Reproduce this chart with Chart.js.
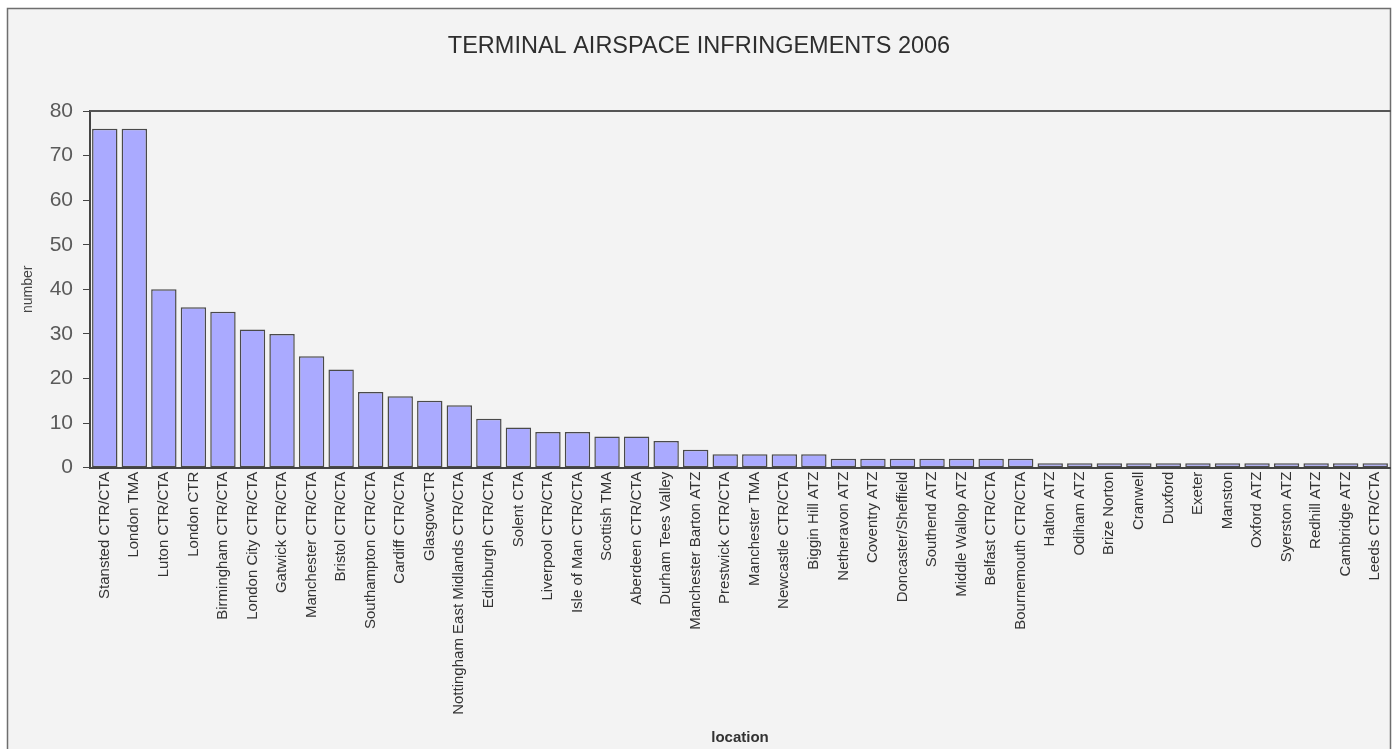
<!DOCTYPE html>
<html>
<head>
<meta charset="utf-8">
<script src="https://cdn.jsdelivr.net/npm/chart.js@4"></script>
<style>
  html, body { margin: 0; padding: 0; background: #ffffff; }
  #wrap { width: 1399px; height: 749px; }
</style>
</head>
<body>
<div id="wrap"><canvas id="c" width="1399" height="749"></canvas></div>
<script>
const chartTitle = 'TERMINAL AIRSPACE INFRINGEMENTS 2006';
const xAxisTitle = 'location';
const yAxisTitle = 'number';

const locations = [
  'Stansted CTR/CTA', 'London TMA', 'Luton CTR/CTA', 'London CTR', 'Birmingham CTR/CTA',
  'London City CTR/CTA', 'Gatwick CTR/CTA', 'Manchester CTR/CTA', 'Bristol CTR/CTA',
  'Southampton CTR/CTA', 'Cardiff CTR/CTA', 'GlasgowCTR', 'Nottingham East Midlands CTR/CTA',
  'Edinburgh CTR/CTA', 'Solent CTA', 'Liverpool CTR/CTA', 'Isle of Man CTR/CTA', 'Scottish TMA',
  'Aberdeen CTR/CTA', 'Durham Tees Valley', 'Manchester Barton ATZ', 'Prestwick CTR/CTA',
  'Manchester TMA', 'Newcastle CTR/CTA', 'Biggin Hill ATZ', 'Netheravon ATZ', 'Coventry ATZ',
  'Doncaster/Sheffield', 'Southend ATZ', 'Middle Wallop ATZ', 'Belfast CTR/CTA',
  'Bournemouth CTR/CTA', 'Halton ATZ', 'Odiham ATZ', 'Brize Norton', 'Cranwell', 'Duxford',
  'Exeter', 'Manston', 'Oxford ATZ', 'Syerston ATZ', 'Redhill ATZ', 'Cambridge ATZ', 'Leeds CTR/CTA'
];

const infringements = [
  76, 76, 40, 36, 35,
  31, 30, 25, 22,
  17, 16, 15, 14,
  11, 9, 8, 8, 7,
  7, 6, 4, 3,
  3, 3, 3, 2, 2,
  2, 2, 2, 2,
  2, 1, 1, 1, 1, 1,
  1, 1, 1, 1, 1, 1, 1
];

const yMin = 0;
const yMax = 80;
const yStep = 10;

const FONT = "'Liberation Sans', Arial, Helvetica, sans-serif";

const framePlugin = {
  id: 'frame',
  beforeDraw(chart) {
    const ctx = chart.ctx;
    ctx.save();
    ctx.fillStyle = '#ffffff';
    ctx.fillRect(0, 0, chart.width, chart.height);
    ctx.fillStyle = '#f3f3f3';
    ctx.fillRect(7, 8, 1383, chart.height);
    ctx.strokeStyle = '#6e6e6e';
    ctx.lineWidth = 1.5;
    ctx.strokeRect(7.5, 8.5, 1383, chart.height + 10);
    ctx.restore();
  },
  afterDraw(chart) {
    const a = chart.chartArea;
    const ctx = chart.ctx;
    ctx.save();
    ctx.strokeStyle = '#555555';
    ctx.lineWidth = 2;
    ctx.beginPath();
    ctx.moveTo(a.left, a.top);
    ctx.lineTo(1391, a.top);
    ctx.stroke();
    ctx.restore();
  }
};

new Chart(document.getElementById('c'), {
  type: 'bar',
  data: {
    labels: locations,
    datasets: [{
      label: yAxisTitle,
      data: infringements,
      backgroundColor: '#aaaaff',
      borderColor: '#4a4a4a',
      borderWidth: 1.5,
      borderSkipped: false,
      categoryPercentage: 1.0,
      barPercentage: 0.86
    }]
  },
  options: {
    responsive: false,
    animation: false,
    events: [],
    layout: { padding: { left: 8, right: 9, top: 0, bottom: 0 } },
    plugins: {
      legend: { display: false },
      tooltip: { enabled: false },
      title: {
        display: true,
        text: chartTitle,
        color: '#2e2e2e',
        font: { family: FONT, size: 23.5, weight: 'normal' },
        padding: { top: 32, bottom: 50.8 }
      }
    },
    scales: {
      x: {
        grid: { display: true, drawOnChartArea: false, drawTicks: false, color: '#444' },
        border: { display: true, color: '#444', width: 2 },
        ticks: {
          autoSkip: false,
          minRotation: 90,
          maxRotation: 90,
          padding: 4,
          color: '#333333',
          font: { family: FONT, size: 15 }
        },
        title: {
          display: true,
          text: xAxisTitle,
          color: '#333333',
          font: { family: FONT, size: 15, weight: 'bold' },
          padding: { top: 0, bottom: 2 }
        },
        afterFit(scale) { scale.height = 749 - 467.7; }
      },
      y: {
        min: yMin,
        max: yMax,
        grid: { display: true, drawOnChartArea: false, drawTicks: true, tickLength: 7, color: '#444' },
        border: { display: true, color: '#444', width: 2 },
        ticks: {
          stepSize: yStep,
          padding: 10,
          color: '#5a5a5a',
          font: { family: FONT, size: 21 }
        },
        title: {
          display: true,
          text: yAxisTitle,
          color: '#444444',
          font: { family: FONT, size: 14 },
          padding: { top: 11.5, bottom: 0 }
        },
        afterFit(scale) { scale.width = 82; }
      }
    }
  },
  plugins: [framePlugin]
});
</script>
</body>
</html>
